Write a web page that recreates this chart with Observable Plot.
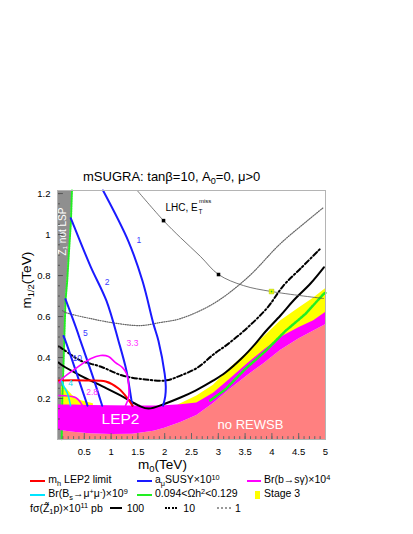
<!DOCTYPE html>
<html><head><meta charset="utf-8">
<script src="https://cdn.jsdelivr.net/npm/d3@7"></script>
<script src="https://cdn.jsdelivr.net/npm/@observablehq/plot@0.6"></script>
<style>
body{margin:0;background:#fff;}
#wrap{position:relative;width:413px;height:534px;font-family:"Liberation Sans",Arial,Helvetica,sans-serif;color:#000;overflow:hidden;}
#wrap svg{position:absolute;left:0;top:0;}
.t{position:absolute;white-space:nowrap;line-height:1;}
.sub{font-size:70%;position:relative;top:0.35em;}
.sup{font-size:70%;position:relative;top:-0.5em;}
.ln{position:absolute;height:0;}
</style></head><body><div id="wrap"></div>
<script>
// ---- axis ticks ----
const xTicks = [0.5, 1, 1.5, 2, 2.5, 3, 3.5, 4, 4.5, 5];
const yTicks = [0.2, 0.4, 0.6, 0.8, 1, 1.2];
const xMinor = d3.range(1, 50).map(i => i / 10);
const yMinor = d3.range(1, 25).map(i => i / 20);
const xMajorTickMarks = d3.range(1, 10).map(i => i / 2);
const yMajorTickMarks = [0.2, 0.4, 0.6, 0.8, 1, 1.2];

// ---- regions: [m0, lower m1/2, upper m1/2] ----
const lep2Band = [[0,0.045,0.168],[0.3,0.035,0.168],[0.6,0.028,0.166],[1.0,0.024,0.165],[1.4,0.026,0.163],[1.8,0.04,0.163],[2.0,0.055,0.165],[2.3,0.083,0.17],[2.6,0.117,0.178],[2.91,0.176,0.226],[3.2,0.24,0.29],[3.55,0.312,0.371],[3.85,0.37,0.435],[4.16,0.434,0.498],[4.5,0.49,0.545],[4.78,0.53,0.58],[5.0,0.56,0.62]];
const stage3Band = [[2.25,0.16,0.168],[2.6,0.17,0.212],[2.91,0.2,0.265],[3.23,0.26,0.35],[3.55,0.34,0.425],[3.85,0.41,0.5],[4.16,0.47,0.578],[4.5,0.52,0.64],[4.78,0.56,0.69],[5.0,0.6,0.735]];
const stage3Low = [[0.075,0.16,0.259],[0.168,0.16,0.249],[0.28,0.16,0.215],[0.43,0.16,0.19],[0.67,0.16,0.175]];
// Z1 not LSP edge: [m1/2, m0]
const zNotLsp = [[1.215,0.27],[1.06,0.25],[0.9,0.21],[0.77,0.18],[0.68,0.15],[0.52,0.13],[0.35,0.11],[0.2,0.09],[0,0.08]];
const omegaRight = [[2.85,0.19],[3.134,0.245],[3.507,0.345],[3.881,0.432],[4.254,0.53],[4.627,0.613],[4.963,0.71],[5.0,0.716]];

// ---- contours: [m0, m1/2] ----
const amu1 = [[0.85,1.215],[1.325,0.966],[1.586,0.773],[1.791,0.563],[1.884,0.481],[2.0,0.32],[2.02,0.26],[2.01,0.21],[1.97,0.165]];
const amu2 = [[0.247,1.08],[0.274,1.063],[0.616,0.845],[0.914,0.676],[1.138,0.481],[1.287,0.335],[1.381,0.19],[1.399,0.165]];
const amu5 = [[0.149,0.685],[0.368,0.529],[0.429,0.481],[0.653,0.312],[0.834,0.165]];
const amu10 = [[0.112,0.505],[0.149,0.481],[0.354,0.325],[0.56,0.165]];
const mhLep2 = [[0.02,0.288],[0.52,0.288],[0.9,0.283],[1.14,0.249],[1.31,0.2],[1.4,0.165]];
const bsg33 = [[0.037,0.278],[0.112,0.302],[0.336,0.346],[0.616,0.394],[0.802,0.41],[0.951,0.405],[1.082,0.375],[1.213,0.351],[1.287,0.322],[1.325,0.273],[1.325,0.205],[1.269,0.165]];
const bsg28 = [[0.025,0.215],[0.336,0.205],[0.429,0.181],[0.466,0.165]];
const bsmumu4 = [[0.08,0.284],[0.112,0.263],[0.187,0.224],[0.243,0.165]];
const sigma100 = [[0.019,0.376],[0.093,0.361],[0.429,0.312],[0.84,0.259],[1.175,0.215],[1.511,0.166],[1.698,0.151],[2.015,0.176],[2.295,0.205],[2.575,0.239],[2.91,0.288],[3.134,0.327],[3.451,0.4],[3.694,0.468],[3.881,0.527],[4.16,0.605],[4.403,0.678],[4.72,0.761],[4.97,0.84]];
const sigma10 = [[0.019,0.454],[0.112,0.439],[0.429,0.385],[0.802,0.356],[1.213,0.312],[1.642,0.293],[2.015,0.288],[2.295,0.312],[2.612,0.351],[2.91,0.415],[3.19,0.468],[3.545,0.546],[3.918,0.644],[4.216,0.751],[4.534,0.834],[4.907,0.932]];
const sigma1 = [[0.093,0.629],[0.149,0.62],[0.616,0.59],[1.119,0.566],[1.549,0.556],[1.922,0.571],[2.295,0.59],[2.91,0.663],[3.545,0.79],[4.16,0.956],[4.664,1.068],[4.963,1.132]];
const lhcReach = [[1.487,1.215],[1.978,1.068],[2.295,0.985],[2.668,0.893],[3.004,0.805],[3.47,0.751],[3.993,0.722],[4.963,0.688]];
const lhcMarks = [[1.978,1.068],[3.004,0.805]];
const lhcStage3Mark = [[3.993,0.722]];

// ---- labels: [m0, m1/2, text] ----
const amuLabels = [[1.517,0.971,"1"],[0.927,0.767,"2"],[0.522,0.517,"5"],[0.368,0.395,"10"]];
const bsgLabels = [[1.399,0.468,"3.3"],[0.647,0.229,"2.8"]];
const bsmumuLabels = [[0.243,0.273,"4"]];
const lep2Label = [[1.175,0.102,"LEP2"]];
const rewsbLabel = [[3.6,0.073,"no REWSB"]];
const lspLabel = [[0.103,1.015,"Z\u0303\u2081 not LSP"]];
const lhcLabel = [[2.015,1.132,"LHC, E"]];

const F = '"Liberation Sans", Arial, Helvetica, sans-serif';
const X = d => d[0], Y = d => d[1];
const ln = (data, o) => Plot.line(data, {x: X, y: Y, curve: "catmull-rom", ...o});
const lbl = (data, o) => Plot.text(data, {x: X, y: Y, text: d => d[2], fontFamily: F, ...o});

const chart = Plot.plot({
  width: 413, height: 534,
  marginLeft: 57, marginRight: 88, marginTop: 190, marginBottom: 95,
  style: {fontFamily: F, fontSize: "9.5px", background: "transparent"},
  x: {domain: [0, 5], ticks: xTicks, tickSize: 0, tickPadding: 9, tickFormat: d => String(d), label: null},
  y: {domain: [0, 1.215], ticks: yTicks, tickSize: 0, tickPadding: 7, tickFormat: d => String(d), label: null},
  marks: [
    Plot.areaY(lep2Band, {x: X, y1: 0, y2: d => d[1], fill: "#ff8080"}),
    Plot.areaX(zNotLsp, {y: d => d[0], x1: 0, x2: d => d[1], fill: "#8f8f8f"}),
    Plot.areaY(stage3Band, {x: X, y1: d => d[1], y2: d => d[2], fill: "#ffff00"}),
    Plot.areaY(stage3Low, {x: X, y1: d => d[1], y2: d => d[2], fill: "#ffff00"}),
    Plot.line(zNotLsp, {x: d => d[1], y: d => d[0], stroke: "#22ee22", strokeWidth: 2, strokeDasharray: "1.5,1"}),
    Plot.areaY(lep2Band, {x: X, y1: d => d[1], y2: d => d[2], fill: "#ff00ff"}),
    Plot.line(omegaRight, {x: X, y: Y, stroke: "#22ee22", strokeWidth: 2.5, strokeDasharray: "2,1"}),
    ln(sigma1, {stroke: "#666", strokeWidth: 1.2, strokeDasharray: "1,1.3"}),
    ln(sigma10, {stroke: "#000", strokeWidth: 2, strokeDasharray: "5,2.5,1.5,2.5"}),
    ln(sigma100, {stroke: "#000", strokeWidth: 2}),
    ln(amu1, {stroke: "#1a1aff", strokeWidth: 2}),
    ln(amu2, {stroke: "#1a1aff", strokeWidth: 2}),
    ln(amu5, {stroke: "#1a1aff", strokeWidth: 2}),
    ln(amu10, {stroke: "#1a1aff", strokeWidth: 2}),
    ln(mhLep2, {stroke: "#ff0000", strokeWidth: 2}),
    ln(bsg33, {stroke: "#ff00ff", strokeWidth: 1.6}),
    ln(bsg28, {stroke: "#ff00ff", strokeWidth: 1.6}),
    ln(bsmumu4, {stroke: "#00e5ff", strokeWidth: 1.6}),
    ln(lhcReach, {stroke: "#555", strokeWidth: 0.8}),
    Plot.dot(lhcMarks, {x: X, y: Y, symbol: "square", r: 2, fill: "#000"}),
    Plot.dot(lhcStage3Mark, {x: X, y: Y, symbol: "square", r: 2.6, fill: "#ffff00", stroke: "#aacc00", strokeWidth: 0.6}),
    Plot.dot(lhcStage3Mark, {x: X, y: Y, symbol: "square", r: 1, fill: "#22cc22"}),
    lbl(amuLabels, {fill: "#3a3aff", fontSize: 8.5}),
    lbl(bsgLabels, {fill: "#ff33ff", fontSize: 8.5}),
    lbl(bsmumuLabels, {fill: "#00d8f0", fontSize: 8.5}),
    lbl(lep2Label, {fill: "#fff", fontSize: 15.5}),
    lbl(rewsbLabel, {fill: "#fff", fontSize: 13}),
    lbl(lspLabel, {fill: "#fff", fontSize: 10, rotate: -90}),
    lbl(lhcLabel, {fill: "#000", fontSize: 10, textAnchor: "start"}),
    lbl(lhcLabel, {text: () => "T", fill: "#000", fontSize: 6.5, textAnchor: "start", dx: 33, dy: 4}),
    lbl(lhcLabel, {text: () => "miss", fill: "#000", fontSize: 6, textAnchor: "start", dx: 33.5, dy: -6}),
    Plot.ruleX(xMinor, {x: d => d, y1: 0, y2: 0.014, stroke: "#666"}),
    Plot.ruleX(xMajorTickMarks, {x: d => d, y1: 0, y2: 0.029, stroke: "#666"}),
    Plot.ruleY(yMinor, {y: d => d, x1: 0, x2: 0.055, stroke: "#555"}),
    Plot.ruleY(yMajorTickMarks, {y: d => d, x1: 0, x2: 0.11, stroke: "#555"}),
    Plot.frame({stroke: "#b4b4b4"})
  ]
});
const wrap = document.getElementById("wrap");
wrap.appendChild(chart);

function put(html, x, base, size, center) {
  const s = document.createElement("div");
  s.className = "t";
  s.style.left = x + "px";
  s.style.top = (base - 0.846 * size) + "px";
  s.style.fontSize = size + "px";
  if (center) s.style.transform = "translateX(-50%)";
  s.innerHTML = html;
  wrap.appendChild(s);
}
function seg(x1, x2, y, w, style, color) {
  const d = document.createElement("div");
  d.className = "ln";
  d.style.left = x1 + "px";
  d.style.width = (x2 - x1) + "px";
  d.style.top = (y - w / 2) + "px";
  d.style.borderTop = w + "px " + style + " " + color;
  wrap.appendChild(d);
}

// title and axis titles
put('mSUGRA: tan&beta;=10, A<span class="sub">0</span>=0, &mu;&gt;0', 83, 180.5, 13);
put('m<span class="sub">0</span>(TeV)', 162.5, 469.5, 13.5, true);
const yt = document.createElement("div");
yt.className = "t";
yt.style.fontSize = "13.5px";
yt.innerHTML = 'm<span class="sub">1/2</span>(TeV)';
wrap.appendChild(yt);
yt.style.left = "0px"; yt.style.top = "0px";
yt.style.transformOrigin = "0 0";
{
  const w = yt.offsetWidth, h = yt.offsetHeight;
  yt.style.transform = `translate(${27 - h / 2}px, ${280 + w / 2}px) rotate(-90deg)`;
}

// legend
const L = 10.5;
seg(30, 45, 480.7, 2, "solid", "#ff0000");
put('m<span class="sub">h</span> LEP2 limit', 48.3, 483.3, L);
seg(136.7, 151.7, 480.7, 2, "solid", "#1a1aff");
put('a<span class="sub">&mu;</span>SUSY&times;10<span class="sup">10</span>', 155, 483.3, L);
seg(246.7, 260.7, 480.7, 2, "solid", "#ff00ff");
put('Br(b&rarr;s&gamma;)&times;10<span class="sup">4</span>', 264, 483.3, L);

seg(30, 45, 495, 2, "solid", "#00e5ff");
put('Br(B<span class="sub">s</span>&rarr;&mu;<span class="sup">+</span>&mu;<span class="sup">-</span>)&times;10<span class="sup">9</span>', 48.3, 497.3, L);
seg(136.7, 151.7, 495, 2, "solid", "#22ee22");
put('0.094&lt;&Omega;h<span class="sup">2</span>&lt;0.129', 155, 497.3, L);
const sq = document.createElement("div");
sq.style.cssText = "position:absolute;left:255px;top:490.7px;width:5px;height:8px;background:#ffff00;";
wrap.appendChild(sq);
put('Stage 3', 264, 497.3, L);

put('f&sigma;(Z&#771;<span class="sub">1</span>p)&times;10<span class="sup">11</span> pb', 30, 511.8, L);
seg(110, 122, 508, 2.5, "solid", "#000");
put('100', 126.7, 511.8, L);
seg(165, 177, 508, 2, "dotted", "#000");
put('10', 183.3, 511.8, L);
seg(216.7, 230.7, 508, 2, "dotted", "#999");
put('1', 235, 511.8, L);
</script></body></html>
